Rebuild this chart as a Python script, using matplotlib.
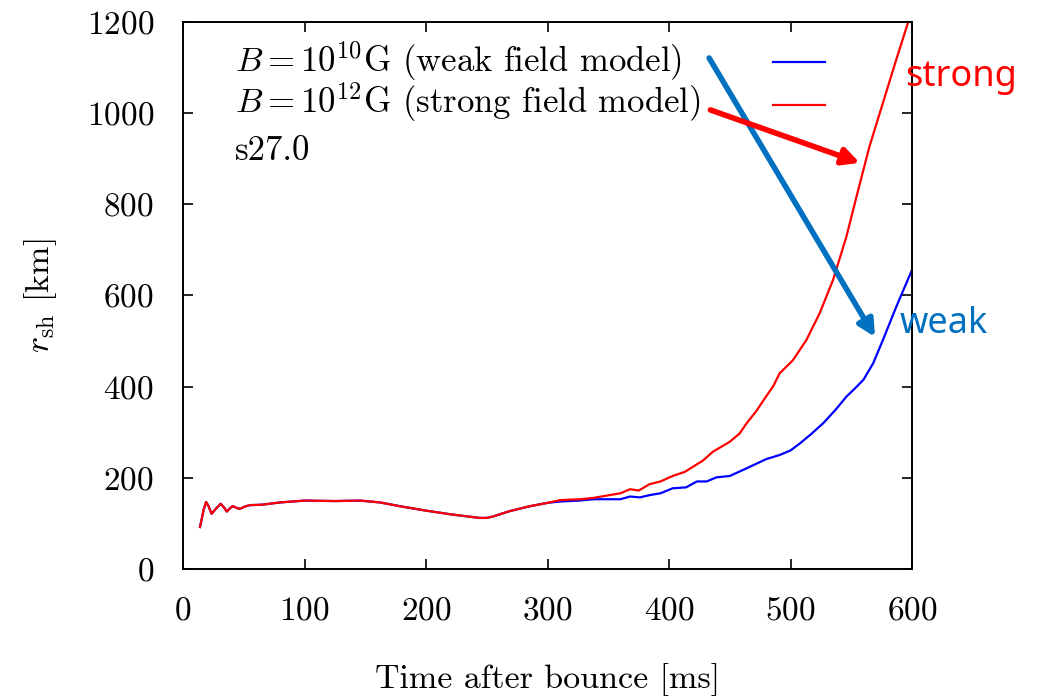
import matplotlib
matplotlib.use("Agg")
import matplotlib.pyplot as plt
from matplotlib.lines import Line2D

# early phase: both models nearly identical
t_early = [14, 17, 19, 21, 23.5, 27, 31, 34, 36, 39, 41, 44, 47, 51, 55, 65, 80,
           100, 125, 146, 162, 180, 200, 220, 244, 250, 255, 269, 286, 300]
r_early = [92, 130, 147, 138, 121, 132, 143, 134, 126, 134, 138, 134, 132, 137, 140,
           141, 146, 150, 149, 150, 146, 137, 128, 120, 112, 112, 115, 127, 138, 145]

weak_t = t_early + [310, 326, 338, 350, 360, 368, 376, 384, 393, 403, 414, 423, 431,
                    439, 450, 464, 480, 491, 500, 508, 517, 527, 537, 546, 553, 560,
                    568, 576, 587, 600]
weak_r = r_early + [148, 150, 153, 153, 153, 159, 157, 162, 166, 177, 179, 192, 192,
                    201, 204, 221, 241, 250, 260, 276, 296, 320, 349, 378, 396, 415,
                    451, 502, 575, 656]

strong_t = t_early + [310, 327, 338, 351, 360, 368, 375, 384, 393, 403, 413, 428, 436,
                      450, 458, 464, 472, 478, 486, 491, 502, 513, 524, 535, 546, 555,
                      565, 576, 587, 597]
strong_r = r_early + [151, 153, 156, 162, 166, 175, 172, 186, 192, 204, 213, 238, 257,
                      279, 297, 320, 347, 371, 402, 429, 458, 502, 561, 634, 729, 824,
                      927, 1022, 1117, 1201]

x_ticks = [0, 100, 200, 300, 400, 500, 600]
y_ticks = [0, 200, 400, 600, 800, 1000, 1200]

key_labels = [r"$B=10^{10}$G (weak field model)",
              r"$B=10^{12}$G (strong field model)",
              "s27.0"]

BLUE_ARROW = "#0070C0"

plt.rcParams["font.family"] = "cmr10"
plt.rcParams["mathtext.fontset"] = "cm"
plt.rcParams["axes.formatter.use_mathtext"] = True
plt.rcParams["font.size"] = 24.5

fig = plt.figure(figsize=(10.41, 6.96), dpi=100)
ax = fig.add_axes([0.1758, 0.1825, 0.7003, 0.786])

ax.plot(weak_t, weak_r, color="#0000ff", lw=1.6)
ax.plot(strong_t, strong_r, color="#ff0000", lw=1.6)

ax.set_xlim(0, 600)
ax.set_ylim(0, 1200)
ax.set_xticks(x_ticks)
ax.set_yticks(y_ticks)
ax.tick_params(direction="in", length=7, width=1.2, top=True, right=True, labelsize=24)
ax.tick_params(axis="y", pad=21)
ax.tick_params(axis="x", pad=20)
for s in ax.spines.values():
    s.set_linewidth(1.4)

ax.set_xlabel("Time after bounce [ms]", labelpad=27)
ax.set_ylabel(r"$r_{\rm sh}$ [km]", labelpad=20)

# gnuplot-style key: left aligned labels, line samples in a column on the right
for lab, yb in zip(key_labels, [0.9091, 0.8336, 0.7477]):
    ax.text(0.0713, yb, lab, transform=ax.transAxes, fontsize=25,
            ha="left", va="baseline")
handles = [Line2D([], [], color="#0000ff", lw=1.6),
           Line2D([], [], color="#ff0000", lw=1.6)]
ax.legend(handles, ["", ""], loc="upper left", bbox_to_anchor=(0.8093, 0.954),
          frameon=False, borderpad=0, borderaxespad=0, fontsize=25,
          handlelength=1.5, handleheight=1.2, handletextpad=0, labelspacing=0.18)

arrow_style = "-|>,head_length=0.55,head_width=0.28"
ax.annotate("", xy=(569.5, 509), xytext=(433, 1121),
            arrowprops=dict(arrowstyle=arrow_style, lw=4, color=BLUE_ARROW,
                            mutation_scale=18, shrinkA=0, shrinkB=0))
ax.annotate("", xy=(557, 891), xytext=(434, 1007),
            arrowprops=dict(arrowstyle=arrow_style, lw=4, color="#ff0000",
                            mutation_scale=18, shrinkA=0, shrinkB=0))

ax.text(594, 1080, "strong", color="#ff0000", fontsize=26, family="Noto Sans",
        va="center", ha="left", clip_on=False)
ax.text(590, 538, "weak", color=BLUE_ARROW, fontsize=26, family="Noto Sans",
        va="center", ha="left", clip_on=False)

fig.savefig("out.png", dpi=100)
